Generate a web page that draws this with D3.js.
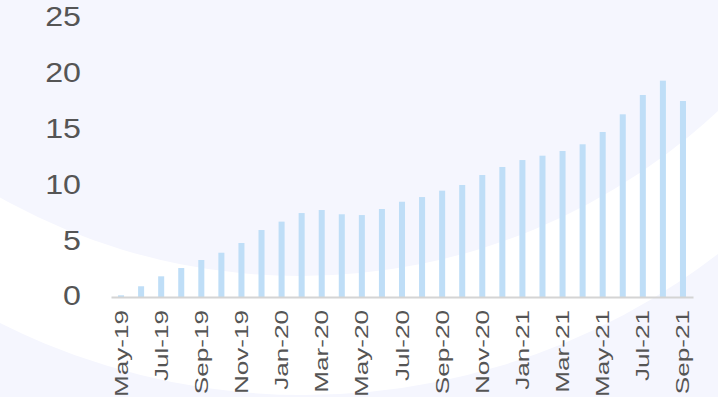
<!DOCTYPE html>
<html>
<head>
<meta charset="utf-8">
<script src="https://cdn.jsdelivr.net/npm/d3@7"></script>
<style>
  body { margin: 0; background: #f5f6fe; }
  svg { display: block; }
</style>
</head>
<body>
<div id="chart"></div>
<script>
// 1. Datos
const months = [
  "May-19","Jun-19","Jul-19","Aug-19","Sep-19","Oct-19","Nov-19","Dec-19",
  "Jan-20","Feb-20","Mar-20","Apr-20","May-20","Jun-20","Jul-20","Aug-20",
  "Sep-20","Oct-20","Nov-20","Dec-20","Jan-21","Feb-21","Mar-21","Apr-21",
  "May-21","Jun-21","Jul-21","Aug-21","Sep-21"
];
const values = [
  0.15, 0.96, 1.85, 2.59, 3.31, 3.96, 4.83, 5.99,
  6.74, 7.51, 7.78, 7.40, 7.33, 7.87, 8.52, 8.94,
  9.51, 10.02, 10.91, 11.63, 12.25, 12.64, 13.06, 13.66,
  14.76, 16.34, 18.07, 19.35, 17.53
];
const yTicks = [0, 5, 10, 15, 20, 25];
// sólo se rotulan los meses alternos
const xLabels = months.filter((d, i) => i % 2 === 0);

// 2. Dimensiones
const W = 718, H = 397;
const margin = { top: 17.5, right: 25, bottom: 100, left: 111 },
      width  = W - margin.left - margin.right,
      height = H - margin.top - margin.bottom;

const svg = d3.select("#chart")
  .append("svg")
    .attr("width", W)
    .attr("height", H);

// 3. Fondo con curvas suaves
svg.append("rect")
   .attr("width", W).attr("height", H)
   .attr("fill", "#f5f6fe");
svg.append("circle")
   .attr("cx", 304).attr("cy", -283).attr("r", 678)
   .attr("fill", "#ffffff");
svg.append("circle")
   .attr("cx", 300).attr("cy", -336).attr("r", 612)
   .attr("fill", "#f5f6fe");

const g = svg.append("g")
    .attr("transform", `translate(${margin.left}, ${margin.top})`);

// 4. Escalas
const x = d3.scaleBand()
  .domain(months)
  .range([0, width])
  .paddingInner(0.7)
  .paddingOuter(0.35);

const y = d3.scaleLinear()
  .domain([0, 25])
  .range([height, 0]);

// 5. Barras
g.selectAll("rect.bar")
  .data(values)
  .enter()
  .append("rect")
    .attr("class", "bar")
    .attr("x", (d, i) => x(months[i]))
    .attr("y", d => y(d))
    .attr("width", x.bandwidth())
    .attr("height", d => y(0) - y(d))
    .attr("fill", "#bfdef7");

// 6. Eje X
const xAxis = g.append("g")
   .attr("transform", `translate(0, ${height})`)
   .call(d3.axisBottom(x).tickValues(xLabels).tickSize(0).tickSizeOuter(0));

xAxis.select(".domain")
   .attr("stroke", "#d4d4d4")
   .attr("stroke-width", 2);

xAxis.selectAll("text")
   .attr("x", null).attr("y", null).attr("dy", null)
   .attr("text-anchor", "end")
   .attr("transform", "translate(6.5, 13) rotate(-90) scale(1.45, 1)")
   .attr("fill", "#555555")
   .style("font-family", "'Liberation Sans', Arial, sans-serif")
   .style("font-size", "18px");

// 7. Eje Y (sin línea)
const yAxis = g.append("g")
   .call(d3.axisLeft(y).tickValues(yTicks).tickSize(0));

yAxis.select(".domain").remove();

yAxis.selectAll("text")
   .attr("x", null)
   .attr("transform", "translate(-30, -1) scale(1.15, 1)")
   .attr("fill", "#555555")
   .style("font-family", "'Liberation Sans', Arial, sans-serif")
   .style("font-size", "28px");
</script>
</body>
</html>
